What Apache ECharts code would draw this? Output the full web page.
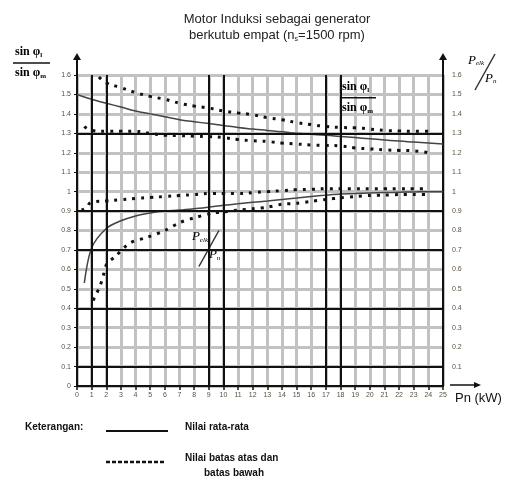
<!DOCTYPE html>
<html>
<head>
<meta charset="utf-8">
<script src="https://cdn.jsdelivr.net/npm/echarts@6/dist/echarts.min.js"></script>
<style>
  html, body { margin: 0; padding: 0; background: #fff; }
  #chart { width: 508px; height: 484px; }
</style>
</head>
<body>
<div id="chart"></div>
<script>
// sin(phi_l)/sin(phi_m) curves
const sinMean = [[0,1.50],[1,1.475],[2,1.455],[3,1.435],[4,1.415],[5,1.40],[6,1.385],[7,1.37],[8,1.36],[9,1.35],[10,1.34],[11,1.33],[12,1.322],[13,1.315],[14,1.308],[15,1.30],[16,1.295],[17,1.29],[18,1.284],[19,1.278],[20,1.272],[21,1.266],[22,1.26],[23,1.255],[24,1.25],[25,1.245]];
const sinUpper = [[1.5,1.59],[2,1.56],[3,1.535],[4,1.51],[5,1.49],[6,1.475],[7,1.455],[8,1.44],[9,1.43],[10,1.415],[11,1.405],[12,1.395],[13,1.38],[14,1.37],[15,1.355],[16,1.345],[17,1.335],[18,1.33],[19,1.328],[20,1.322],[21,1.315],[22,1.312],[23,1.31],[24,1.31]];
const sinLower = [[0.5,1.335],[1,1.315],[2,1.31],[3,1.31],[4,1.31],[5,1.30],[6,1.29],[7,1.288],[8,1.285],[9,1.283],[10,1.278],[11,1.268],[12,1.262],[13,1.258],[14,1.25],[15,1.245],[16,1.24],[17,1.238],[18,1.235],[19,1.225],[20,1.22],[21,1.215],[22,1.212],[23,1.21],[24,1.20]];

// P_elk/P_n curves
const pMean = [[0.5,0.53],[1,0.71],[2,0.81],[3,0.85],[4,0.875],[5,0.89],[6,0.90],[7,0.905],[8,0.912],[9,0.92],[10,0.93],[11,0.937],[12,0.945],[13,0.952],[14,0.96],[15,0.967],[16,0.975],[17,0.982],[18,0.988],[19,0.99],[20,0.993],[21,0.995],[22,0.997],[23,0.998],[24,1.0],[25,1.0]];
const pUpper = [[0.3,0.905],[0.6,0.915],[1,0.945],[2,0.952],[3,0.958],[4,0.965],[5,0.97],[6,0.975],[7,0.98],[8,0.985],[9,0.99],[10,0.99],[11,0.99],[12,0.995],[13,1.0],[14,1.005],[15,1.01],[16,1.012],[17,1.015],[18,1.015],[19,1.015],[20,1.015],[21,1.015],[22,1.015],[23,1.015],[24,1.015]];
const pLower = [[1.1,0.44],[1.3,0.47],[1.6,0.52],[1.8,0.57],[2.05,0.63],[2.6,0.665],[3.6,0.735],[4.8,0.765],[6,0.80],[7,0.84],[8,0.865],[9.3,0.89],[10,0.895],[11,0.905],[12,0.912],[13,0.92],[14,0.935],[15,0.94],[16,0.95],[17,0.96],[18,0.968],[19,0.975],[20,0.98],[21,0.982],[22,0.985],[23,0.985],[24,0.985]];

// heavier grid lines
const darkX = [1, 2, 9, 10, 17, 18];
const darkY = [1.3, 0.9, 0.7, 0.4, 0.1];

const chart = echarts.init(document.getElementById('chart'));

const fmt = v => String(+v.toFixed(1));
const tickFont = { fontFamily: 'Liberation Sans', fontSize: 7, color: '#5a5040' };
const dotStyle = { color: '#111', width: 3, type: [3, 6] };
const sans = 'Liberation Sans';

chart.setOption({
  animation: false,
  backgroundColor: '#fff',
  title: {
    text: 'Motor Induksi sebagai generator\nberkutub empat (n{s|s}=1500 rpm)',
    left: 272,
    top: 6,
    textAlign: 'center',
    textStyle: {
      fontFamily: sans, fontSize: 13, fontWeight: 'normal', color: '#222', lineHeight: 16,
      rich: { s: { fontSize: 7, verticalAlign: 'bottom', padding: [6, 0, 0, 0], color: '#222' } }
    }
  },
  grid: { left: 77, right: 65, top: 75, bottom: 98 },
  xAxis: {
    type: 'value', min: 0, max: 25, interval: 1,
    axisLine: { lineStyle: { color: '#111', width: 2 } },
    axisTick: { show: true, length: 4, lineStyle: { color: '#111', width: 1.5 } },
    axisLabel: Object.assign({ margin: 6 }, tickFont),
    splitLine: { show: true, lineStyle: { color: '#c2c2c2', width: 3 } }
  },
  yAxis: [
    {
      type: 'value', min: 0, max: 1.6, interval: 0.1, position: 'left',
      axisLine: { show: true, lineStyle: { color: '#111', width: 2 } },
      axisTick: { show: true, length: 3, lineStyle: { color: '#111' } },
      axisLabel: Object.assign({ margin: 6, formatter: fmt }, tickFont),
      splitLine: { show: true, lineStyle: { color: '#c2c2c2', width: 3 } }
    },
    {
      type: 'value', min: 0, max: 1.6, interval: 0.1, position: 'right',
      axisLine: { show: true, lineStyle: { color: '#111', width: 2 } },
      axisTick: { show: false },
      axisLabel: Object.assign({ margin: 9, formatter: fmt, showMinLabel: false }, tickFont),
      splitLine: { show: false }
    }
  ],
  series: [
    {
      type: 'line', data: [], silent: true,
      markLine: {
        silent: true, symbol: 'none', label: { show: false },
        lineStyle: { color: '#111', width: 2, type: 'solid' },
        data: darkX.map(v => ({ xAxis: v })).concat(darkY.map(v => ({ yAxis: v })))
      }
    },
    { name: 'sinMean', type: 'line', data: sinMean, smooth: true, showSymbol: false, lineStyle: { color: '#444', width: 1.5 } },
    { name: 'sinUpper', type: 'line', data: sinUpper, smooth: true, showSymbol: false, lineStyle: dotStyle },
    { name: 'sinLower', type: 'line', data: sinLower, smooth: true, showSymbol: false, lineStyle: dotStyle },
    { name: 'pMean', type: 'line', data: pMean, smooth: 0.3, showSymbol: false, lineStyle: { color: '#444', width: 1.5 } },
    { name: 'pUpper', type: 'line', data: pUpper, smooth: true, showSymbol: false, lineStyle: dotStyle },
    { name: 'pLower', type: 'line', data: pLower, smooth: 0.3, showSymbol: false, lineStyle: dotStyle }
  ]
});

// annotations placed through the axes' own scale
const px = (x, y) => chart.convertToPixel({ gridIndex: 0 }, [x, y]);
const topL = px(0, 1.6), topR = px(25, 1.6), endX = px(25, 0);

const serif = 'Liberation Serif';
const fracRich = {
  b: { fontFamily: serif, fontSize: 12, fontWeight: 'bold', color: '#1a1a2e' },
  sub: { fontFamily: serif, fontSize: 7, fontWeight: 'bold', color: '#1a1a2e', padding: [6, 0, 0, 0] }
};
const pRich = {
  p: { fontFamily: serif, fontSize: 13, fontStyle: 'italic', color: '#1a1a40' },
  sub: { fontFamily: serif, fontSize: 7, fontStyle: 'italic', color: '#1a1a40', padding: [6, 0, 0, 0] }
};

function sinFrac(x, y, w) {
  return [
    { type: 'text', left: x, top: y, style: { text: '{b|sin φ}{sub|l}', rich: fracRich } },
    { type: 'line', shape: { x1: x - 2, y1: y + 17, x2: x + w, y2: y + 17 }, style: { stroke: '#111', lineWidth: 1.5 } },
    { type: 'text', left: x, top: y + 21, style: { text: '{b|sin φ}{sub|m}', rich: fracRich } }
  ];
}
function pFrac(x, y) {
  return [
    { type: 'text', left: x, top: y, style: { text: '{p|P}{sub|elk}', rich: pRich } },
    { type: 'line', shape: { x1: x + 7, y1: y + 36, x2: x + 27, y2: y }, style: { stroke: '#333', lineWidth: 1.5 } },
    { type: 'text', left: x + 17, top: y + 18, style: { text: '{p|P}{sub|n}', rich: pRich } }
  ];
}
function upArrow(p, len) {
  return [
    { type: 'line', shape: { x1: p[0], y1: p[1], x2: p[0], y2: p[1] - len + 4 }, style: { stroke: '#111', lineWidth: 2 } },
    { type: 'polygon', shape: { points: [[p[0] - 4, p[1] - len + 7], [p[0] + 4, p[1] - len + 7], [p[0], p[1] - len]] }, style: { fill: '#111' } }
  ];
}

const inSin = px(18.1, 1.57);
const inP = px(7.85, 0.80);
const legendText = { fontFamily: sans, fontSize: 10, fontWeight: 'bold', fill: '#111' };

chart.setOption({
  graphic: [].concat(
    upArrow(topL, 22),
    upArrow(topR, 22),
    [
     { type: 'line', shape: { x1: endX[0] + 7, y1: endX[1] - 1, x2: endX[0] + 34, y2: endX[1] - 1 }, style: { stroke: '#111', lineWidth: 1.5 } },
     { type: 'polygon', shape: { points: [[endX[0] + 31, endX[1] - 4], [endX[0] + 31, endX[1] + 2], [endX[0] + 38, endX[1] - 1]] }, style: { fill: '#111' } },
     { type: 'text', left: endX[0] + 12, top: endX[1] + 6, style: { text: 'Pn (kW)', fontFamily: sans, fontSize: 13, fill: '#111' } }
    ],
    sinFrac(15, 46, 35),
    pFrac(468, 54),
    sinFrac(inSin[0], inSin[1], 34),
    pFrac(inP[0], inP[1]),
    // legend
    [{ type: 'text', left: 25, top: 422, style: Object.assign({ text: 'Keterangan:' }, legendText) },
     { type: 'line', shape: { x1: 106, y1: 431, x2: 168, y2: 431 }, style: { stroke: '#111', lineWidth: 2 } },
     { type: 'text', left: 185, top: 422, style: Object.assign({ text: 'Nilai rata-rata' }, legendText) },
     { type: 'line', shape: { x1: 106, y1: 462, x2: 164, y2: 462 }, style: { stroke: '#111', lineWidth: 2.5, lineDash: [4, 2] } },
     { type: 'text', left: 185, top: 453, style: Object.assign({ text: 'Nilai batas atas dan' }, legendText) },
     { type: 'text', left: 204, top: 468, style: Object.assign({ text: 'batas bawah' }, legendText) }
    ]
  )
});
</script>
</body>
</html>
